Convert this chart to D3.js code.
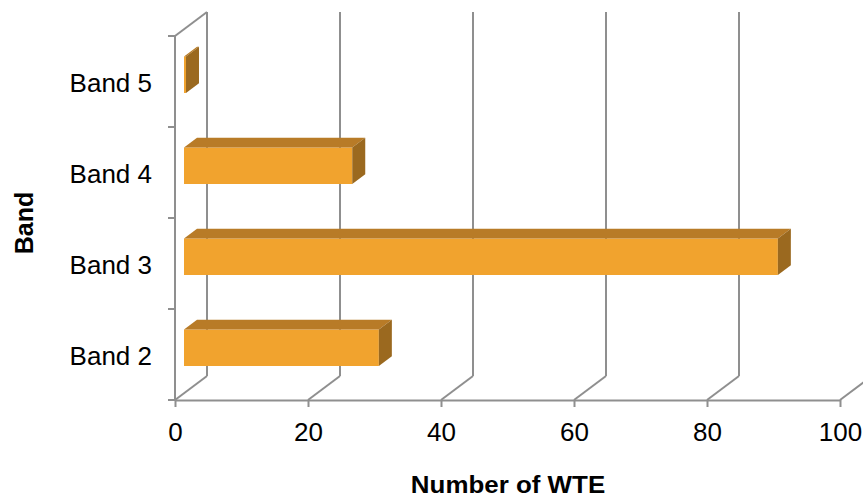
<!DOCTYPE html>
<html>
<head>
<meta charset="utf-8">
<script src="https://cdn.jsdelivr.net/npm/d3@7"></script>
<style>
  html, body { margin: 0; padding: 0; background: #fff; }
  svg { display: block; font-family: "Liberation Sans", Arial, sans-serif; }
</style>
</head>
<body>
<svg id="chart" width="863" height="499"></svg>
<script>
// Chart data
const categories = ["Band 2", "Band 3", "Band 4", "Band 5"];
const wte = [29.3, 89.3, 25.3, 0.3];
const xTicks = [0, 20, 40, 60, 80, 100];
const xTitle = "Number of WTE";
const yTitle = "Band";

const W = 863, H = 499;
const plot = { left: 175, right: 840, top: 36, bottom: 400 };
// Perspective offset from the front plane to the back wall
const DX = 32, DY = -24;
// Depth of bar front and back faces (fraction of wall depth)
const f0 = 9 / 32, f1 = 22 / 32;
const gridColor = "#8f8f8f";
const faceFront = "#f1a32e", faceTop = "#b87b27", faceSide = "#9b691f";
const labelSize = 26;

const svg = d3.select("#chart");

const x = d3.scaleLinear().domain([0, 100]).range([plot.left, plot.right]);
const y = d3.scaleBand()
  .domain(categories.slice().reverse())
  .range([plot.top, plot.bottom])
  .padding(0);

// Back wall gridlines
svg.append("g").selectAll("line.grid")
  .data(xTicks)
  .join("line")
  .attr("x1", d => x(d) + DX).attr("x2", d => x(d) + DX)
  .attr("y1", plot.top + DY).attr("y2", plot.bottom + DY)
  .attr("stroke", gridColor).attr("stroke-width", 2);

// Floor diagonals
svg.append("g").selectAll("line.floor")
  .data(xTicks)
  .join("line")
  .attr("x1", d => x(d)).attr("x2", d => x(d) + DX)
  .attr("y1", plot.bottom).attr("y2", plot.bottom + DY)
  .attr("stroke", gridColor).attr("stroke-width", 2);

// Left wall: front edge and top edge
const wall = svg.append("g").attr("stroke", gridColor).attr("stroke-width", 2);
wall.append("line")
  .attr("x1", x(0)).attr("x2", x(0))
  .attr("y1", plot.top).attr("y2", plot.bottom);
wall.append("line")
  .attr("x1", x(0)).attr("x2", x(0) + DX)
  .attr("y1", plot.top).attr("y2", plot.top + DY);

// Category boundary ticks on the left
const bounds = categories.map(c => y(c)).concat([plot.bottom]);
svg.append("g").selectAll("line")
  .data(bounds)
  .join("line")
  .attr("x1", x(0) - 7).attr("x2", x(0))
  .attr("y1", d => d).attr("y2", d => d)
  .attr("stroke", gridColor).attr("stroke-width", 2);

// Category labels
const yAxis = svg.append("g")
  .attr("transform", `translate(${x(0)},0)`)
  .call(d3.axisLeft(y).tickSize(0).tickPadding(23));
yAxis.select(".domain").remove();
yAxis.selectAll("text")
  .attr("font-size", labelSize)
  .attr("fill", "#000")
  .attr("font-family", "Liberation Sans, Arial, sans-serif")
  .attr("dy", "0.4em");

// Value axis
const xAxis = svg.append("g")
  .attr("transform", `translate(0,${plot.bottom})`)
  .call(d3.axisBottom(x).tickValues(xTicks).tickSize(7).tickSizeOuter(0).tickPadding(16));
xAxis.select(".domain").attr("stroke", gridColor).attr("stroke-width", 2);
xAxis.selectAll(".tick line").attr("stroke", gridColor).attr("stroke-width", 2);
xAxis.selectAll("text")
  .attr("font-size", labelSize)
  .attr("fill", "#000")
  .attr("font-family", "Liberation Sans, Arial, sans-serif");

// 3D bars
const barH = y.bandwidth() / 2.5;
const ddx = (f1 - f0) * DX, ddy = (f1 - f0) * DY;
const bars = categories.map((c, i) => {
  const cy = y(c) + y.bandwidth() / 2 + f0 * DY;
  const L = x(0) + f0 * DX;
  const R = x(wte[i]) + f0 * DX;
  const T = cy - barH / 2, B = cy + barH / 2;
  return { c, L, R, T, B };
});
const pts = arr => arr.map(p => p.join(",")).join(" ");
const bg = svg.append("g");
bars.forEach(b => {
  bg.append("polygon")
    .attr("points", pts([[b.L, b.T], [b.R, b.T], [b.R, b.B], [b.L, b.B]]))
    .attr("fill", faceFront);
  bg.append("polygon")
    .attr("points", pts([[b.L, b.T], [b.R, b.T], [b.R + ddx, b.T + ddy], [b.L + ddx, b.T + ddy]]))
    .attr("fill", faceTop);
  bg.append("polygon")
    .attr("points", pts([[b.R, b.T], [b.R + ddx, b.T + ddy], [b.R + ddx, b.B + ddy], [b.R, b.B]]))
    .attr("fill", faceSide);
});

// Axis titles
svg.append("text")
  .attr("transform", "translate(508,493) scale(1.08,1)")
  .attr("text-anchor", "middle")
  .attr("font-size", 24).attr("font-weight", "bold")
  .attr("fill", "#000")
  .text(xTitle);
svg.append("text")
  .attr("transform", "translate(33,223) rotate(-90)")
  .attr("text-anchor", "middle")
  .attr("font-size", 25).attr("font-weight", "bold")
  .attr("fill", "#000")
  .text(yTitle);
</script>
</body>
</html>
